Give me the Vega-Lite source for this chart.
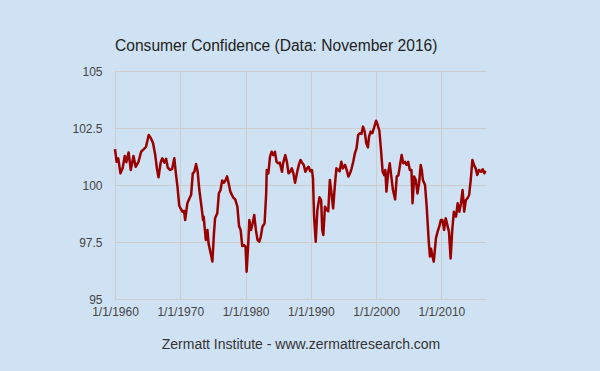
{
  "$schema": "https://vega.github.io/schema/vega-lite/v6.json",
  "width": 371,
  "height": 228,
  "autosize": "none",
  "padding": {"left": 115, "top": 71, "right": 114, "bottom": 72},
  "background": "#cfe2f3",
  "title": {
    "text": "Consumer Confidence (Data: November 2016)",
    "anchor": "start",
    "frame": "group",
    "font": "Liberation Sans",
    "fontSize": 15.6,
    "fontWeight": "normal",
    "color": "#222222",
    "baseline": "alphabetic",
    "offset": -2
  },
  "config": {
    "view": {"stroke": null},
    "axis": {"labelFont": "Liberation Sans", "titleFont": "Liberation Sans"}
  },
  "data": {
    "values": [
      {"date": "1960-01-01", "value": 101.57},
      {"date": "1960-04-01", "value": 101.02},
      {"date": "1960-07-01", "value": 101.17},
      {"date": "1960-11-01", "value": 100.51},
      {"date": "1961-03-01", "value": 100.73},
      {"date": "1961-07-01", "value": 101.27},
      {"date": "1961-10-01", "value": 101.0},
      {"date": "1962-02-01", "value": 101.43},
      {"date": "1962-06-01", "value": 100.66},
      {"date": "1962-11-01", "value": 101.27},
      {"date": "1963-03-01", "value": 100.8},
      {"date": "1963-08-01", "value": 101.0},
      {"date": "1964-01-01", "value": 101.46},
      {"date": "1964-06-01", "value": 101.57},
      {"date": "1964-10-01", "value": 101.68},
      {"date": "1965-03-01", "value": 102.19},
      {"date": "1965-07-01", "value": 102.05},
      {"date": "1965-11-01", "value": 101.83},
      {"date": "1966-03-01", "value": 101.32},
      {"date": "1966-06-01", "value": 100.73},
      {"date": "1966-09-01", "value": 100.34},
      {"date": "1967-01-01", "value": 101.0},
      {"date": "1967-04-01", "value": 101.17},
      {"date": "1967-08-01", "value": 100.98},
      {"date": "1967-11-01", "value": 101.15},
      {"date": "1968-02-01", "value": 100.76},
      {"date": "1968-06-01", "value": 100.66},
      {"date": "1968-10-01", "value": 100.7},
      {"date": "1969-02-01", "value": 101.17},
      {"date": "1969-05-01", "value": 100.5},
      {"date": "1969-08-01", "value": 99.9},
      {"date": "1969-11-01", "value": 99.1},
      {"date": "1970-02-01", "value": 98.95},
      {"date": "1970-05-01", "value": 98.83},
      {"date": "1970-08-01", "value": 98.87},
      {"date": "1970-10-01", "value": 98.46},
      {"date": "1971-02-01", "value": 99.2},
      {"date": "1971-06-01", "value": 99.42},
      {"date": "1971-09-01", "value": 99.57},
      {"date": "1971-12-01", "value": 100.51},
      {"date": "1972-03-01", "value": 100.58},
      {"date": "1972-06-01", "value": 100.92},
      {"date": "1972-09-01", "value": 100.58},
      {"date": "1972-12-01", "value": 99.78},
      {"date": "1973-04-01", "value": 99.05},
      {"date": "1973-07-01", "value": 98.46},
      {"date": "1973-08-01", "value": 98.61},
      {"date": "1973-12-01", "value": 97.59},
      {"date": "1974-03-01", "value": 98.03},
      {"date": "1974-05-01", "value": 97.44},
      {"date": "1974-09-01", "value": 97.0},
      {"date": "1974-12-01", "value": 96.64},
      {"date": "1975-03-01", "value": 97.88},
      {"date": "1975-05-01", "value": 98.54},
      {"date": "1975-09-01", "value": 98.76},
      {"date": "1975-12-01", "value": 99.64},
      {"date": "1976-03-01", "value": 99.78},
      {"date": "1976-06-01", "value": 100.2},
      {"date": "1976-09-01", "value": 100.1},
      {"date": "1976-12-01", "value": 100.2},
      {"date": "1977-03-01", "value": 100.38},
      {"date": "1977-06-01", "value": 100.07},
      {"date": "1977-09-01", "value": 99.71},
      {"date": "1978-02-01", "value": 99.46},
      {"date": "1978-06-01", "value": 99.37},
      {"date": "1978-10-01", "value": 99.05},
      {"date": "1979-01-01", "value": 98.2},
      {"date": "1979-04-01", "value": 98.03},
      {"date": "1979-07-01", "value": 97.32},
      {"date": "1979-10-01", "value": 97.37},
      {"date": "1980-01-01", "value": 97.3},
      {"date": "1980-03-01", "value": 96.2},
      {"date": "1980-06-01", "value": 97.44},
      {"date": "1980-08-01", "value": 98.46},
      {"date": "1980-11-01", "value": 98.03},
      {"date": "1981-02-01", "value": 98.32},
      {"date": "1981-05-01", "value": 98.68},
      {"date": "1981-08-01", "value": 98.03},
      {"date": "1981-11-01", "value": 97.59},
      {"date": "1982-02-01", "value": 97.51},
      {"date": "1982-05-01", "value": 97.73},
      {"date": "1982-08-01", "value": 98.17},
      {"date": "1982-12-01", "value": 98.32},
      {"date": "1983-03-01", "value": 99.64},
      {"date": "1983-04-01", "value": 100.66},
      {"date": "1983-07-01", "value": 100.51},
      {"date": "1983-10-01", "value": 101.24},
      {"date": "1984-01-01", "value": 101.46},
      {"date": "1984-04-01", "value": 101.31},
      {"date": "1984-07-01", "value": 101.46},
      {"date": "1984-10-01", "value": 101.02},
      {"date": "1985-01-01", "value": 100.95},
      {"date": "1985-04-01", "value": 100.98},
      {"date": "1985-08-01", "value": 100.58},
      {"date": "1985-10-01", "value": 100.95},
      {"date": "1986-02-01", "value": 101.31},
      {"date": "1986-05-01", "value": 101.02},
      {"date": "1986-08-01", "value": 100.51},
      {"date": "1986-11-01", "value": 100.58},
      {"date": "1987-02-01", "value": 100.73},
      {"date": "1987-05-01", "value": 100.51},
      {"date": "1987-08-01", "value": 100.1},
      {"date": "1987-12-01", "value": 100.58},
      {"date": "1988-03-01", "value": 100.88},
      {"date": "1988-06-01", "value": 101.1},
      {"date": "1988-09-01", "value": 100.98},
      {"date": "1988-12-01", "value": 100.88},
      {"date": "1989-03-01", "value": 100.58},
      {"date": "1989-06-01", "value": 100.73},
      {"date": "1989-09-01", "value": 100.8},
      {"date": "1989-12-01", "value": 100.6},
      {"date": "1990-03-01", "value": 100.66},
      {"date": "1990-05-01", "value": 100.3},
      {"date": "1990-07-01", "value": 98.61},
      {"date": "1990-10-01", "value": 97.51},
      {"date": "1991-01-01", "value": 98.9},
      {"date": "1991-05-01", "value": 99.46},
      {"date": "1991-08-01", "value": 99.34},
      {"date": "1991-10-01", "value": 98.03},
      {"date": "1991-12-01", "value": 97.81},
      {"date": "1992-03-01", "value": 99.05},
      {"date": "1992-06-01", "value": 98.9},
      {"date": "1992-09-01", "value": 98.85},
      {"date": "1992-12-01", "value": 100.22},
      {"date": "1993-03-01", "value": 99.63},
      {"date": "1993-06-01", "value": 98.97},
      {"date": "1993-09-01", "value": 99.93},
      {"date": "1993-12-01", "value": 100.73},
      {"date": "1994-03-01", "value": 100.66},
      {"date": "1994-06-01", "value": 100.6},
      {"date": "1994-09-01", "value": 101.02},
      {"date": "1994-12-01", "value": 100.73},
      {"date": "1995-04-01", "value": 100.88},
      {"date": "1995-07-01", "value": 100.66},
      {"date": "1995-10-01", "value": 100.37},
      {"date": "1996-01-01", "value": 100.51},
      {"date": "1996-04-01", "value": 100.73},
      {"date": "1996-07-01", "value": 101.02},
      {"date": "1996-10-01", "value": 101.39},
      {"date": "1997-01-01", "value": 101.61},
      {"date": "1997-04-01", "value": 102.19},
      {"date": "1997-07-01", "value": 102.27},
      {"date": "1997-10-01", "value": 102.24},
      {"date": "1998-01-01", "value": 102.56},
      {"date": "1998-04-01", "value": 102.34},
      {"date": "1998-07-01", "value": 101.83},
      {"date": "1998-10-01", "value": 101.65},
      {"date": "1998-12-01", "value": 102.12},
      {"date": "1999-03-01", "value": 102.34},
      {"date": "1999-06-01", "value": 102.27},
      {"date": "1999-09-01", "value": 102.49},
      {"date": "2000-01-01", "value": 102.82},
      {"date": "2000-04-01", "value": 102.63},
      {"date": "2000-07-01", "value": 102.38},
      {"date": "2000-10-01", "value": 101.54},
      {"date": "2001-01-01", "value": 100.58},
      {"date": "2001-04-01", "value": 100.43},
      {"date": "2001-06-01", "value": 100.66},
      {"date": "2001-08-01", "value": 99.71},
      {"date": "2001-11-01", "value": 100.51},
      {"date": "2002-02-01", "value": 100.95},
      {"date": "2002-05-01", "value": 100.37},
      {"date": "2002-08-01", "value": 99.78},
      {"date": "2002-12-01", "value": 99.37},
      {"date": "2003-03-01", "value": 100.37},
      {"date": "2003-06-01", "value": 100.43},
      {"date": "2003-09-01", "value": 100.88},
      {"date": "2003-12-01", "value": 101.32},
      {"date": "2004-03-01", "value": 100.95},
      {"date": "2004-06-01", "value": 101.02},
      {"date": "2004-09-01", "value": 100.88},
      {"date": "2004-12-01", "value": 101.02},
      {"date": "2005-03-01", "value": 100.66},
      {"date": "2005-06-01", "value": 100.66},
      {"date": "2005-08-01", "value": 99.2},
      {"date": "2005-11-01", "value": 100.37},
      {"date": "2006-02-01", "value": 100.22},
      {"date": "2006-05-01", "value": 99.63},
      {"date": "2006-08-01", "value": 100.07},
      {"date": "2006-11-01", "value": 100.88},
      {"date": "2007-01-01", "value": 100.66},
      {"date": "2007-03-01", "value": 100.22},
      {"date": "2007-07-01", "value": 100.0},
      {"date": "2007-10-01", "value": 99.05},
      {"date": "2007-12-01", "value": 98.25},
      {"date": "2008-02-01", "value": 97.44},
      {"date": "2008-04-01", "value": 96.86},
      {"date": "2008-06-01", "value": 97.2},
      {"date": "2008-08-01", "value": 96.93},
      {"date": "2008-11-01", "value": 96.64},
      {"date": "2009-03-01", "value": 97.66},
      {"date": "2009-06-01", "value": 97.95},
      {"date": "2009-09-01", "value": 98.17},
      {"date": "2009-12-01", "value": 98.46},
      {"date": "2010-03-01", "value": 98.46},
      {"date": "2010-06-01", "value": 98.03},
      {"date": "2010-09-01", "value": 98.54},
      {"date": "2010-12-01", "value": 98.24},
      {"date": "2011-03-01", "value": 97.95},
      {"date": "2011-06-01", "value": 96.78},
      {"date": "2011-09-01", "value": 98.03},
      {"date": "2011-12-01", "value": 98.83},
      {"date": "2012-04-01", "value": 98.61},
      {"date": "2012-07-01", "value": 99.2},
      {"date": "2012-10-01", "value": 98.83},
      {"date": "2013-01-01", "value": 99.2},
      {"date": "2013-04-01", "value": 99.78},
      {"date": "2013-07-01", "value": 98.83},
      {"date": "2013-10-01", "value": 99.34},
      {"date": "2014-01-01", "value": 99.42},
      {"date": "2014-04-01", "value": 99.56},
      {"date": "2014-07-01", "value": 100.22},
      {"date": "2014-10-01", "value": 101.1},
      {"date": "2015-01-01", "value": 100.88},
      {"date": "2015-04-01", "value": 100.73},
      {"date": "2015-07-01", "value": 100.44},
      {"date": "2015-10-01", "value": 100.66},
      {"date": "2016-02-01", "value": 100.58},
      {"date": "2016-05-01", "value": 100.69},
      {"date": "2016-08-01", "value": 100.51},
      {"date": "2016-10-01", "value": 100.62}
    ]
  },
  "mark": {"type": "line", "color": "#990000", "strokeWidth": 2.5, "strokeJoin": "round"},
  "encoding": {
    "x": {
      "field": "date",
      "type": "temporal",
      "scale": {
        "type": "utc",
        "domain": [
          {"year": 1960, "month": 1, "date": 1, "utc": true},
          {"year": 2016, "month": 11, "date": 1, "utc": true}
        ]
      },
      "axis": {
        "title": "Zermatt Institute - www.zermattresearch.com",
        "labelExpr": "utcFormat(datum.value, '%-m/%-d/%Y')",
        "tickCount": {"interval": "year", "step": 10},
        "grid": true,
        "gridColor": "#cccccc",
        "gridWidth": 1,
        "domain": false,
        "ticks": false,
        "tickSize": 0,
        "labelPadding": 7,
        "labelFontSize": 12,
        "labelColor": "#444444",
        "labelOverlap": false,
        "labelFlush": false,
        "titleFontSize": 14,
        "titleFontWeight": "normal",
        "titleColor": "#333333",
        "titlePadding": 20
      }
    },
    "y": {
      "field": "value",
      "type": "quantitative",
      "scale": {"domain": [95, 105], "nice": false, "zero": false},
      "axis": {
        "title": null,
        "values": [95, 97.5, 100, 102.5, 105],
        "labelExpr": "'' + datum.value",
        "grid": true,
        "gridColor": "#cccccc",
        "gridWidth": 1,
        "domain": false,
        "ticks": false,
        "tickSize": 0,
        "labelPadding": 13,
        "labelFontSize": 12,
        "labelColor": "#444444"
      }
    }
  }
}
